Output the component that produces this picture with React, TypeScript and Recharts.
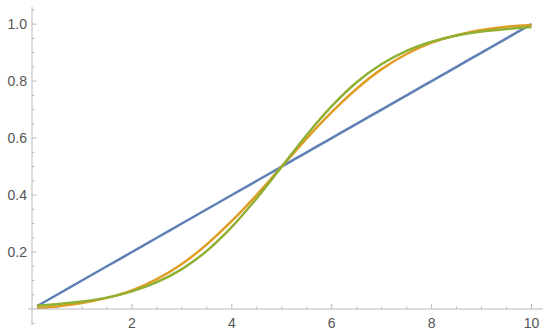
import React from "react";
import { LineChart, Line, XAxis, YAxis, ReferenceLine } from "recharts";

const xValues = [0.1, 0.5, 1, 1.5, 2, 2.5, 3, 3.5, 4, 4.5, 5, 5.5, 6, 6.5, 7, 7.5, 8, 8.5, 9, 9.5, 10];
const blueValues = [0.01, 0.05, 0.1, 0.15, 0.2, 0.25, 0.3, 0.35, 0.4, 0.45, 0.5, 0.55, 0.6, 0.65, 0.7, 0.75, 0.8, 0.85, 0.9, 0.95, 1.0];
const orangeValues = [0.003, 0.009, 0.021, 0.039, 0.065, 0.105, 0.158, 0.227, 0.309, 0.401, 0.5, 0.599, 0.691, 0.773, 0.842, 0.895, 0.935, 0.961, 0.979, 0.991, 0.997];
const greenValues = [0.011, 0.017, 0.026, 0.04, 0.062, 0.094, 0.14, 0.204, 0.288, 0.389, 0.5, 0.611, 0.712, 0.796, 0.86, 0.906, 0.938, 0.96, 0.974, 0.983, 0.99];

const xMajorTicks = [2, 4, 6, 8, 10];
const xMinorTicks = [0.5, 1, 1.5, 2.5, 3, 3.5, 4.5, 5, 5.5, 6.5, 7, 7.5, 8.5, 9, 9.5];
const yMajorTicks = [0.2, 0.4, 0.6, 0.8, 1.0];
const yMinorTicks = [0.05, 0.1, 0.15, 0.25, 0.3, 0.35, 0.45, 0.5, 0.55, 0.65, 0.7, 0.75, 0.85, 0.9, 0.95, 1.05];
const yMajorLabels = ["0.2", "0.4", "0.6", "0.8", "1.0"];

const data = xValues.map((x, i) => ({
  x,
  blue: blueValues[i],
  orange: orangeValues[i],
  green: greenValues[i],
}));

const AXIS = "#b8b8b8";
const LABEL = "#555555";
const FONT = "'Liberation Sans', Arial, sans-serif";

const XTick = (props: any) => {
  const { x, y, payload } = props;
  const major = xMajorTicks.includes(payload.value);
  return (
    <g>
      <line x1={x} y1={y} x2={x} y2={y - (major ? 5 : 2.5)} stroke={AXIS} strokeWidth={1} />
      {major && (
        <text x={x} y={y + 19} textAnchor="middle" fill={LABEL} fontSize={14} fontFamily={FONT}>
          {String(payload.value)}
        </text>
      )}
    </g>
  );
};

const YTick = (props: any) => {
  const { x, y, payload } = props;
  const idx = yMajorTicks.indexOf(payload.value);
  const major = idx >= 0;
  return (
    <g>
      <line x1={x} y1={y} x2={x + (major ? 4.5 : 2.5)} y2={y} stroke={AXIS} strokeWidth={1} />
      {major && (
        <text x={x - 5} y={y + 5} textAnchor="end" fill={LABEL} fontSize={14} fontFamily={FONT}>
          {yMajorLabels[idx]}
        </text>
      )}
    </g>
  );
};

export default function App() {
  const xTicks = [...xMinorTicks, ...xMajorTicks].sort((a, b) => a - b);
  const yTicks = [...yMinorTicks, ...yMajorTicks].sort((a, b) => a - b);
  return (
    <div style={{ position: "absolute", left: 0, top: 0, width: 550, height: 336, background: "#fff" }}>
      <LineChart
        width={550}
        height={336}
        data={data}
        margin={{ top: 7, right: 7, left: 0, bottom: 0 }}
      >
        <XAxis
          dataKey="x"
          type="number"
          domain={[0, 10.23]}
          allowDataOverflow
          ticks={xTicks}
          interval={0}
          height={27}
          tickSize={0}
          tickMargin={0}
          axisLine={{ stroke: AXIS, strokeWidth: 1 }}
          tickLine={false}
          tick={<XTick />}
        />
        <YAxis
          type="number"
          domain={[0, 1.06]}
          allowDataOverflow
          ticks={yTicks}
          interval={0}
          width={32}
          tickSize={0}
          tickMargin={0}
          axisLine={{ stroke: AXIS, strokeWidth: 1 }}
          tickLine={false}
          tick={<YTick />}
        />
        <ReferenceLine
          segment={[{ x: -0.08, y: 0 }, { x: 0, y: 0 }]}
          stroke={AXIS}
          strokeWidth={1}
          ifOverflow="visible"
        />
        <ReferenceLine
          segment={[{ x: 0, y: 0 }, { x: 0, y: -0.056 }]}
          stroke={AXIS}
          strokeWidth={1}
          ifOverflow="visible"
        />
        <ReferenceLine
          segment={[{ x: 0, y: -0.05 }, { x: 0.05, y: -0.05 }]}
          stroke={AXIS}
          strokeWidth={1}
          ifOverflow="visible"
        />
        <Line type="monotone" dataKey="blue" stroke="#5E81B5" strokeWidth={2.5} dot={false} isAnimationActive={false} />
        <Line type="monotone" dataKey="orange" stroke="#E19C24" strokeWidth={2.5} dot={false} isAnimationActive={false} />
        <Line type="monotone" dataKey="green" stroke="#8FB032" strokeWidth={2.5} dot={false} isAnimationActive={false} />
      </LineChart>
    </div>
  );
}
